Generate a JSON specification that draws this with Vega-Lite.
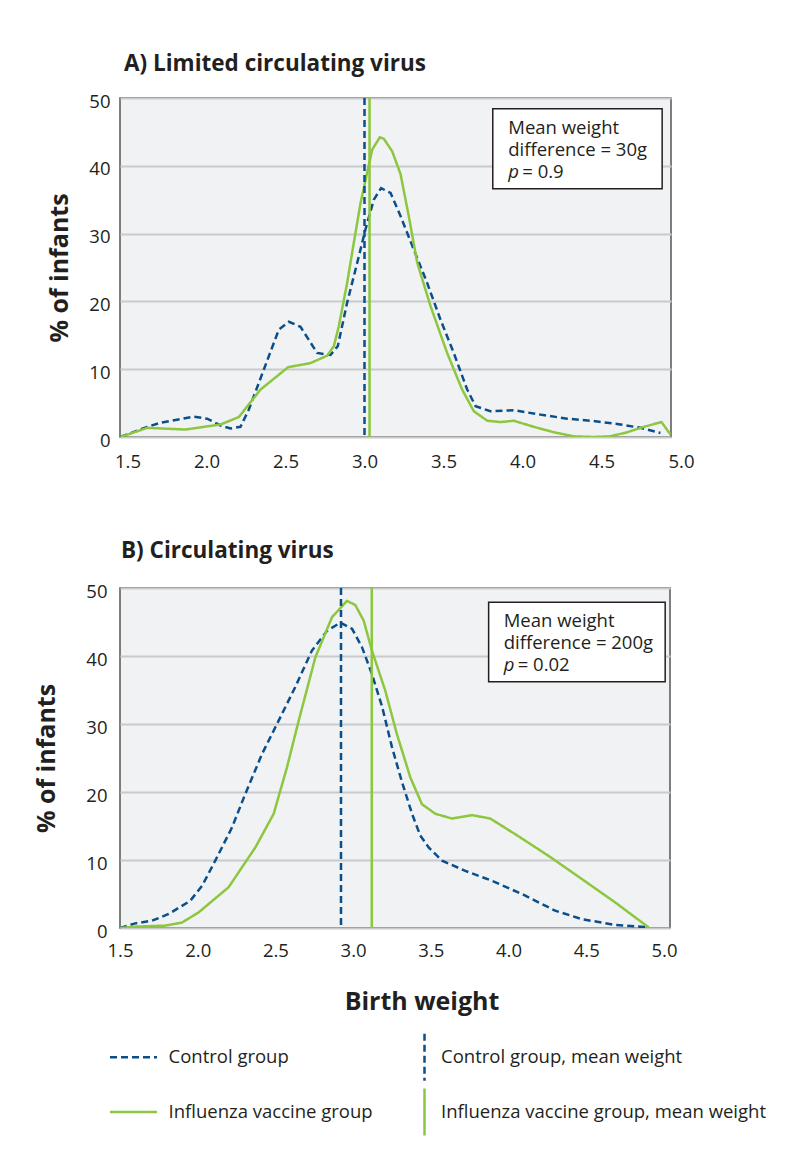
{
  "$schema": "https://vega.github.io/schema/vega-lite/v6.json",
  "background": "white",
  "padding": {"left": 34, "top": 51, "right": 5, "bottom": 5},
  "config": {
    "font": "Open Sans",
    "view": {"fill": "#f1f2f4", "stroke": "#555555", "strokeWidth": 1.5},
    "axis": {
      "labelFont": "Open Sans", "labelFontSize": 18.5, "labelColor": "#231f20",
      "titleFont": "Open Sans", "titleFontWeight": "bold", "titleFontSize": 25, "titleColor": "#231f20",
      "domain": false, "ticks": false, "labelFlush": false
    },
    "axisY": {"grid": true, "gridColor": "#c9cacc", "gridWidth": 2},
    "axisX": {"grid": false},
    "title": {"font": "Open Sans", "fontSize": 22.5, "fontWeight": "bold", "color": "#231f20", "anchor": "start", "frame": "group"}
  },
  "datasets": {
    "curves": [
      {"panel": "A", "series": "Control group", "x": 1.455, "y": 0},
      {"panel": "A", "series": "Control group", "x": 1.625, "y": 1.5},
      {"panel": "A", "series": "Control group", "x": 1.709, "y": 2.1},
      {"panel": "A", "series": "Control group", "x": 1.92, "y": 3.0},
      {"panel": "A", "series": "Control group", "x": 2.004, "y": 2.7},
      {"panel": "A", "series": "Control group", "x": 2.089, "y": 1.7},
      {"panel": "A", "series": "Control group", "x": 2.152, "y": 1.25},
      {"panel": "A", "series": "Control group", "x": 2.215, "y": 1.5},
      {"panel": "A", "series": "Control group", "x": 2.268, "y": 4.05},
      {"panel": "A", "series": "Control group", "x": 2.363, "y": 9.96},
      {"panel": "A", "series": "Control group", "x": 2.458, "y": 15.85},
      {"panel": "A", "series": "Control group", "x": 2.521, "y": 17.0},
      {"panel": "A", "series": "Control group", "x": 2.595, "y": 16.25},
      {"panel": "A", "series": "Control group", "x": 2.70, "y": 12.4},
      {"panel": "A", "series": "Control group", "x": 2.785, "y": 12.1},
      {"panel": "A", "series": "Control group", "x": 2.831, "y": 13.4},
      {"panel": "A", "series": "Control group", "x": 2.89, "y": 19.8},
      {"panel": "A", "series": "Control group", "x": 2.954, "y": 25.7},
      {"panel": "A", "series": "Control group", "x": 3.006, "y": 30.6},
      {"panel": "A", "series": "Control group", "x": 3.059, "y": 35.0},
      {"panel": "A", "series": "Control group", "x": 3.105, "y": 36.7},
      {"panel": "A", "series": "Control group", "x": 3.165, "y": 36.0},
      {"panel": "A", "series": "Control group", "x": 3.228, "y": 32.6},
      {"panel": "A", "series": "Control group", "x": 3.312, "y": 27.65},
      {"panel": "A", "series": "Control group", "x": 3.397, "y": 22.7},
      {"panel": "A", "series": "Control group", "x": 3.481, "y": 17.3},
      {"panel": "A", "series": "Control group", "x": 3.565, "y": 12.4},
      {"panel": "A", "series": "Control group", "x": 3.65, "y": 7.0},
      {"panel": "A", "series": "Control group", "x": 3.703, "y": 4.55},
      {"panel": "A", "series": "Control group", "x": 3.797, "y": 3.8},
      {"panel": "A", "series": "Control group", "x": 3.945, "y": 3.95},
      {"panel": "A", "series": "Control group", "x": 4.114, "y": 3.3},
      {"panel": "A", "series": "Control group", "x": 4.283, "y": 2.7},
      {"panel": "A", "series": "Control group", "x": 4.45, "y": 2.35},
      {"panel": "A", "series": "Control group", "x": 4.62, "y": 1.85},
      {"panel": "A", "series": "Control group", "x": 4.747, "y": 1.35},
      {"panel": "A", "series": "Control group", "x": 4.873, "y": 0.6},
      {"panel": "A", "series": "Influenza vaccine group", "x": 1.455, "y": 0},
      {"panel": "A", "series": "Influenza vaccine group", "x": 1.625, "y": 1.35},
      {"panel": "A", "series": "Influenza vaccine group", "x": 1.867, "y": 1.1},
      {"panel": "A", "series": "Influenza vaccine group", "x": 2.089, "y": 1.85},
      {"panel": "A", "series": "Influenza vaccine group", "x": 2.205, "y": 2.95},
      {"panel": "A", "series": "Influenza vaccine group", "x": 2.342, "y": 7.0},
      {"panel": "A", "series": "Influenza vaccine group", "x": 2.517, "y": 10.3},
      {"panel": "A", "series": "Influenza vaccine group", "x": 2.658, "y": 10.9},
      {"panel": "A", "series": "Influenza vaccine group", "x": 2.764, "y": 12.0},
      {"panel": "A", "series": "Influenza vaccine group", "x": 2.806, "y": 13.4},
      {"panel": "A", "series": "Influenza vaccine group", "x": 2.837, "y": 16.3},
      {"panel": "A", "series": "Influenza vaccine group", "x": 2.89, "y": 22.7},
      {"panel": "A", "series": "Influenza vaccine group", "x": 2.932, "y": 28.6},
      {"panel": "A", "series": "Influenza vaccine group", "x": 2.975, "y": 34.5},
      {"panel": "A", "series": "Influenza vaccine group", "x": 3.017, "y": 39.0},
      {"panel": "A", "series": "Influenza vaccine group", "x": 3.049, "y": 42.4},
      {"panel": "A", "series": "Influenza vaccine group", "x": 3.097, "y": 44.2},
      {"panel": "A", "series": "Influenza vaccine group", "x": 3.122, "y": 44.0},
      {"panel": "A", "series": "Influenza vaccine group", "x": 3.175, "y": 42.15},
      {"panel": "A", "series": "Influenza vaccine group", "x": 3.228, "y": 38.8},
      {"panel": "A", "series": "Influenza vaccine group", "x": 3.28, "y": 32.6},
      {"panel": "A", "series": "Influenza vaccine group", "x": 3.334, "y": 25.7},
      {"panel": "A", "series": "Influenza vaccine group", "x": 3.418, "y": 19.3},
      {"panel": "A", "series": "Influenza vaccine group", "x": 3.523, "y": 12.4},
      {"panel": "A", "series": "Influenza vaccine group", "x": 3.618, "y": 7.0},
      {"panel": "A", "series": "Influenza vaccine group", "x": 3.692, "y": 3.8},
      {"panel": "A", "series": "Influenza vaccine group", "x": 3.777, "y": 2.4},
      {"panel": "A", "series": "Influenza vaccine group", "x": 3.861, "y": 2.2},
      {"panel": "A", "series": "Influenza vaccine group", "x": 3.945, "y": 2.4},
      {"panel": "A", "series": "Influenza vaccine group", "x": 4.072, "y": 1.5},
      {"panel": "A", "series": "Influenza vaccine group", "x": 4.198, "y": 0.7},
      {"panel": "A", "series": "Influenza vaccine group", "x": 4.325, "y": 0.1},
      {"panel": "A", "series": "Influenza vaccine group", "x": 4.45, "y": 0},
      {"panel": "A", "series": "Influenza vaccine group", "x": 4.557, "y": 0.1},
      {"panel": "A", "series": "Influenza vaccine group", "x": 4.663, "y": 0.7},
      {"panel": "A", "series": "Influenza vaccine group", "x": 4.768, "y": 1.5},
      {"panel": "A", "series": "Influenza vaccine group", "x": 4.88, "y": 2.2},
      {"panel": "A", "series": "Influenza vaccine group", "x": 4.937, "y": 0.35},
      {"panel": "B", "series": "Control group", "x": 1.5, "y": 0},
      {"panel": "B", "series": "Control group", "x": 1.598, "y": 0.68},
      {"panel": "B", "series": "Control group", "x": 1.706, "y": 1.07},
      {"panel": "B", "series": "Control group", "x": 1.813, "y": 2.06},
      {"panel": "B", "series": "Control group", "x": 1.952, "y": 4.0},
      {"panel": "B", "series": "Control group", "x": 2.028, "y": 6.2},
      {"panel": "B", "series": "Control group", "x": 2.113, "y": 9.9},
      {"panel": "B", "series": "Control group", "x": 2.221, "y": 14.8},
      {"panel": "B", "series": "Control group", "x": 2.306, "y": 19.7},
      {"panel": "B", "series": "Control group", "x": 2.414, "y": 25.6},
      {"panel": "B", "series": "Control group", "x": 2.521, "y": 30.5},
      {"panel": "B", "series": "Control group", "x": 2.627, "y": 35.4},
      {"panel": "B", "series": "Control group", "x": 2.735, "y": 40.8},
      {"panel": "B", "series": "Control group", "x": 2.832, "y": 43.7},
      {"panel": "B", "series": "Control group", "x": 2.917, "y": 44.9},
      {"panel": "B", "series": "Control group", "x": 2.993, "y": 44.0},
      {"panel": "B", "series": "Control group", "x": 3.057, "y": 41.3},
      {"panel": "B", "series": "Control group", "x": 3.121, "y": 37.35},
      {"panel": "B", "series": "Control group", "x": 3.186, "y": 32.6},
      {"panel": "B", "series": "Control group", "x": 3.25, "y": 26.6},
      {"panel": "B", "series": "Control group", "x": 3.314, "y": 21.5},
      {"panel": "B", "series": "Control group", "x": 3.379, "y": 16.8},
      {"panel": "B", "series": "Control group", "x": 3.432, "y": 13.6},
      {"panel": "B", "series": "Control group", "x": 3.486, "y": 11.85},
      {"panel": "B", "series": "Control group", "x": 3.572, "y": 9.9},
      {"panel": "B", "series": "Control group", "x": 3.722, "y": 8.4},
      {"panel": "B", "series": "Control group", "x": 3.893, "y": 6.95},
      {"panel": "B", "series": "Control group", "x": 4.086, "y": 5.0},
      {"panel": "B", "series": "Control group", "x": 4.3, "y": 2.55},
      {"panel": "B", "series": "Control group", "x": 4.472, "y": 1.3},
      {"panel": "B", "series": "Control group", "x": 4.687, "y": 0.45},
      {"panel": "B", "series": "Control group", "x": 4.901, "y": 0.1},
      {"panel": "B", "series": "Influenza vaccine group", "x": 1.5, "y": 0},
      {"panel": "B", "series": "Influenza vaccine group", "x": 1.598, "y": 0.2},
      {"panel": "B", "series": "Influenza vaccine group", "x": 1.791, "y": 0.35},
      {"panel": "B", "series": "Influenza vaccine group", "x": 1.899, "y": 0.8},
      {"panel": "B", "series": "Influenza vaccine group", "x": 2.006, "y": 2.3},
      {"panel": "B", "series": "Influenza vaccine group", "x": 2.199, "y": 6.0},
      {"panel": "B", "series": "Influenza vaccine group", "x": 2.371, "y": 11.85},
      {"panel": "B", "series": "Influenza vaccine group", "x": 2.489, "y": 16.8},
      {"panel": "B", "series": "Influenza vaccine group", "x": 2.574, "y": 23.6},
      {"panel": "B", "series": "Influenza vaccine group", "x": 2.65, "y": 30.5},
      {"panel": "B", "series": "Influenza vaccine group", "x": 2.757, "y": 39.8},
      {"panel": "B", "series": "Influenza vaccine group", "x": 2.864, "y": 45.7},
      {"panel": "B", "series": "Influenza vaccine group", "x": 2.96, "y": 48.1},
      {"panel": "B", "series": "Influenza vaccine group", "x": 3.014, "y": 47.5},
      {"panel": "B", "series": "Influenza vaccine group", "x": 3.068, "y": 45.2},
      {"panel": "B", "series": "Influenza vaccine group", "x": 3.121, "y": 40.8},
      {"panel": "B", "series": "Influenza vaccine group", "x": 3.207, "y": 34.9},
      {"panel": "B", "series": "Influenza vaccine group", "x": 3.282, "y": 28.5},
      {"panel": "B", "series": "Influenza vaccine group", "x": 3.368, "y": 22.15},
      {"panel": "B", "series": "Influenza vaccine group", "x": 3.443, "y": 18.2},
      {"panel": "B", "series": "Influenza vaccine group", "x": 3.529, "y": 16.8},
      {"panel": "B", "series": "Influenza vaccine group", "x": 3.636, "y": 16.1},
      {"panel": "B", "series": "Influenza vaccine group", "x": 3.765, "y": 16.6},
      {"panel": "B", "series": "Influenza vaccine group", "x": 3.882, "y": 16.1},
      {"panel": "B", "series": "Influenza vaccine group", "x": 4.043, "y": 13.8},
      {"panel": "B", "series": "Influenza vaccine group", "x": 4.258, "y": 10.6},
      {"panel": "B", "series": "Influenza vaccine group", "x": 4.472, "y": 7.2},
      {"panel": "B", "series": "Influenza vaccine group", "x": 4.687, "y": 3.75},
      {"panel": "B", "series": "Influenza vaccine group", "x": 4.901, "y": 0.1}
    ],
    "means": [
      {"panel": "A", "series": "Control group, mean weight", "x": 3.0},
      {"panel": "A", "series": "Influenza vaccine group, mean weight", "x": 3.032},
      {"panel": "B", "series": "Control group, mean weight", "x": 2.922},
      {"panel": "B", "series": "Influenza vaccine group, mean weight", "x": 3.12}
    ],
    "boxes": [
      {"panel": "A", "x": 3.812, "x2": 4.884, "y": 48.4, "y2": 36.6},
      {"panel": "B", "x": 3.872, "x2": 5.008, "y": 47.9, "y2": 36.2}
    ],
    "boxlines": [
      {"panel": "A", "x": 3.91, "y": 44.7, "text": "Mean weight"},
      {"panel": "A", "x": 3.91, "y": 41.4, "text": "difference = 30g"},
      {"panel": "B", "x": 3.969, "y": 44.3, "text": "Mean weight"},
      {"panel": "B", "x": 3.969, "y": 41.0, "text": "difference = 200g"}
    ],
    "boxp": [
      {"panel": "A", "x": 3.91, "y": 38.2, "text": "= 0.9"},
      {"panel": "B", "x": 3.969, "y": 37.8, "text": "= 0.02"}
    ]
  },
  "spacing": 66,
  "resolve": {
    "scale": {"color": "independent", "strokeDash": "independent"},
    "legend": {"color": "independent", "strokeDash": "independent"}
  },
  "vconcat": [
    {
      "title": {"text": "A) Limited circulating virus", "dx": 4, "offset": 17},
      "width": 551,
      "height": 339,
      "layer": [
        {
          "data": {"name": "curves"},
          "transform": [{"filter": "datum.panel === 'A'"}],
          "mark": {"type": "line", "strokeWidth": 2.5, "clip": true},
          "encoding": {
            "x": {"field": "x", "type": "quantitative",
              "scale": {"domain": [1.4525, 4.94], "nice": false, "zero": false},
              "axis": {"values": [1.5, 2, 2.5, 3, 3.5, 4, 4.5, 4.94],
                "labelExpr": "datum.value > 4.9 ? '5.0' : format(datum.value, '.1f')",
                "title": null, "labelPadding": 15,
                "labelOffset": {"condition": {"test": "datum.value > 4.9", "value": 10}, "value": 0}}},
            "y": {"field": "y", "type": "quantitative",
              "scale": {"domain": [0, 50], "nice": false},
              "axis": {"values": [0, 10, 20, 30, 40, 50], "title": "% of infants", "labelPadding": 10, "titlePadding": 16, "labelOffset": 3}},
            "color": {"field": "series", "type": "nominal",
              "scale": {"domain": ["Control group", "Influenza vaccine group", "Control group, mean weight", "Influenza vaccine group, mean weight"],
                        "range": ["#0b4f8a", "#8dc63f", "#0b4f8a", "#8dc63f"]},
              "legend": null},
            "strokeDash": {"field": "series", "type": "nominal",
              "scale": {"domain": ["Control group", "Influenza vaccine group", "Control group, mean weight", "Influenza vaccine group, mean weight"],
                        "range": [[7, 4], [1, 0], [7, 4], [1, 0]]},
              "legend": null}
          }
        },
        {
          "data": {"name": "means"},
          "transform": [{"filter": "datum.panel === 'A'"}],
          "mark": {"type": "rule", "strokeWidth": 2.5},
          "encoding": {
            "x": {"field": "x", "type": "quantitative"},
            "color": {"field": "series", "type": "nominal", "legend": null},
            "strokeDash": {"field": "series", "type": "nominal", "legend": null}
          }
        },
        {
          "data": {"name": "boxes"},
          "transform": [{"filter": "datum.panel === 'A'"}],
          "mark": {"type": "rect", "fill": "white", "stroke": "#231f20", "strokeWidth": 1.5},
          "encoding": {
            "x": {"field": "x", "type": "quantitative"},
            "x2": {"field": "x2"},
            "y": {"field": "y", "type": "quantitative"},
            "y2": {"field": "y2"}
          }
        },
        {
          "data": {"name": "boxlines"},
          "transform": [{"filter": "datum.panel === 'A'"}],
          "mark": {"type": "text", "align": "left", "baseline": "alphabetic", "fontSize": 18.5, "color": "#231f20"},
          "encoding": {
            "x": {"field": "x", "type": "quantitative"},
            "y": {"field": "y", "type": "quantitative"},
            "text": {"field": "text"}
          }
        },
        {
          "data": {"name": "boxp"},
          "transform": [{"filter": "datum.panel === 'A'"}],
          "mark": {"type": "text", "text": "p", "fontStyle": "italic", "align": "left", "baseline": "alphabetic", "fontSize": 18.5, "color": "#231f20"},
          "encoding": {
            "x": {"field": "x", "type": "quantitative"},
            "y": {"field": "y", "type": "quantitative"}
          }
        },
        {
          "data": {"name": "boxp"},
          "transform": [{"filter": "datum.panel === 'A'"}],
          "mark": {"type": "text", "dx": 14, "align": "left", "baseline": "alphabetic", "fontSize": 18.5, "color": "#231f20"},
          "encoding": {
            "x": {"field": "x", "type": "quantitative"},
            "y": {"field": "y", "type": "quantitative"},
            "text": {"field": "text"}
          }
        }
      ]
    },
    {
      "title": {"text": "B) Circulating virus", "dx": 1, "offset": 20},
      "width": 550,
      "height": 340,
      "layer": [
        {
          "data": {"name": "curves"},
          "transform": [{"filter": "datum.panel === 'B'"}],
          "mark": {"type": "line", "strokeWidth": 2.5, "clip": true},
          "encoding": {
            "x": {"field": "x", "type": "quantitative",
              "scale": {"domain": [1.5, 5.039], "nice": false, "zero": false},
              "axis": {"values": [1.5, 2, 2.5, 3, 3.5, 4, 4.5, 5], "format": ".1f", "title": "Birth weight", "labelPadding": 13, "titlePadding": 30, "titleX": 301.5}},
            "y": {"field": "y", "type": "quantitative",
              "scale": {"domain": [0, 50], "nice": false},
              "axis": {"values": [0, 10, 20, 30, 40, 50], "title": "% of infants", "labelPadding": 13, "titlePadding": 26, "labelOffset": 3}},
            "color": {"field": "series", "type": "nominal",
              "scale": {"domain": ["Control group", "Influenza vaccine group", "Control group, mean weight", "Influenza vaccine group, mean weight"],
                        "range": ["#0b4f8a", "#8dc63f", "#0b4f8a", "#8dc63f"]},
              "legend": {
                "orient": "none", "legendX": -11.5, "legendY": 444, "columns": 2, "title": null,
                "symbolSize": 2209, "symbolStrokeWidth": 2.5, "labelFontSize": 18.5, "labelFont": "Open Sans",
                "labelColor": "#231f20", "labelOffset": 10, "labelLimit": 500, "columnPadding": 26, "rowPadding": -3,
                "encode": {
                  "symbols": {"update": {
                    "shape": {"signal": "indexof(datum.value, 'mean') >= 0 ? 'M0,-1L0,1' : 'M-1,0L1,0M0,-1L0,-1M0,1L0,1'"},
                    "strokeDash": {"signal": "indexof(datum.value, 'Control') === 0 ? [10, 8] : [1, 0]"}
                  }},
                  "labels": {"update": {"dx": {"signal": "indexof(datum.value, 'mean') >= 0 ? -18.5 : 0"}}}
                }
              }},
            "strokeDash": {"field": "series", "type": "nominal",
              "scale": {"domain": ["Control group", "Influenza vaccine group", "Control group, mean weight", "Influenza vaccine group, mean weight"],
                        "range": [[7, 4], [1, 0], [7, 4], [1, 0]]},
              "legend": null}
          }
        },
        {
          "data": {"name": "means"},
          "transform": [{"filter": "datum.panel === 'B'"}],
          "mark": {"type": "rule", "strokeWidth": 2.5},
          "encoding": {
            "x": {"field": "x", "type": "quantitative"},
            "color": {"field": "series", "type": "nominal"},
            "strokeDash": {"field": "series", "type": "nominal", "legend": null}
          }
        },
        {
          "data": {"name": "boxes"},
          "transform": [{"filter": "datum.panel === 'B'"}],
          "mark": {"type": "rect", "fill": "white", "stroke": "#231f20", "strokeWidth": 1.5},
          "encoding": {
            "x": {"field": "x", "type": "quantitative"},
            "x2": {"field": "x2"},
            "y": {"field": "y", "type": "quantitative"},
            "y2": {"field": "y2"}
          }
        },
        {
          "data": {"name": "boxlines"},
          "transform": [{"filter": "datum.panel === 'B'"}],
          "mark": {"type": "text", "align": "left", "baseline": "alphabetic", "fontSize": 18.5, "color": "#231f20"},
          "encoding": {
            "x": {"field": "x", "type": "quantitative"},
            "y": {"field": "y", "type": "quantitative"},
            "text": {"field": "text"}
          }
        },
        {
          "data": {"name": "boxp"},
          "transform": [{"filter": "datum.panel === 'B'"}],
          "mark": {"type": "text", "text": "p", "fontStyle": "italic", "align": "left", "baseline": "alphabetic", "fontSize": 18.5, "color": "#231f20"},
          "encoding": {
            "x": {"field": "x", "type": "quantitative"},
            "y": {"field": "y", "type": "quantitative"}
          }
        },
        {
          "data": {"name": "boxp"},
          "transform": [{"filter": "datum.panel === 'B'"}],
          "mark": {"type": "text", "dx": 14, "align": "left", "baseline": "alphabetic", "fontSize": 18.5, "color": "#231f20"},
          "encoding": {
            "x": {"field": "x", "type": "quantitative"},
            "y": {"field": "y", "type": "quantitative"},
            "text": {"field": "text"}
          }
        }
      ]
    }
  ]
}
